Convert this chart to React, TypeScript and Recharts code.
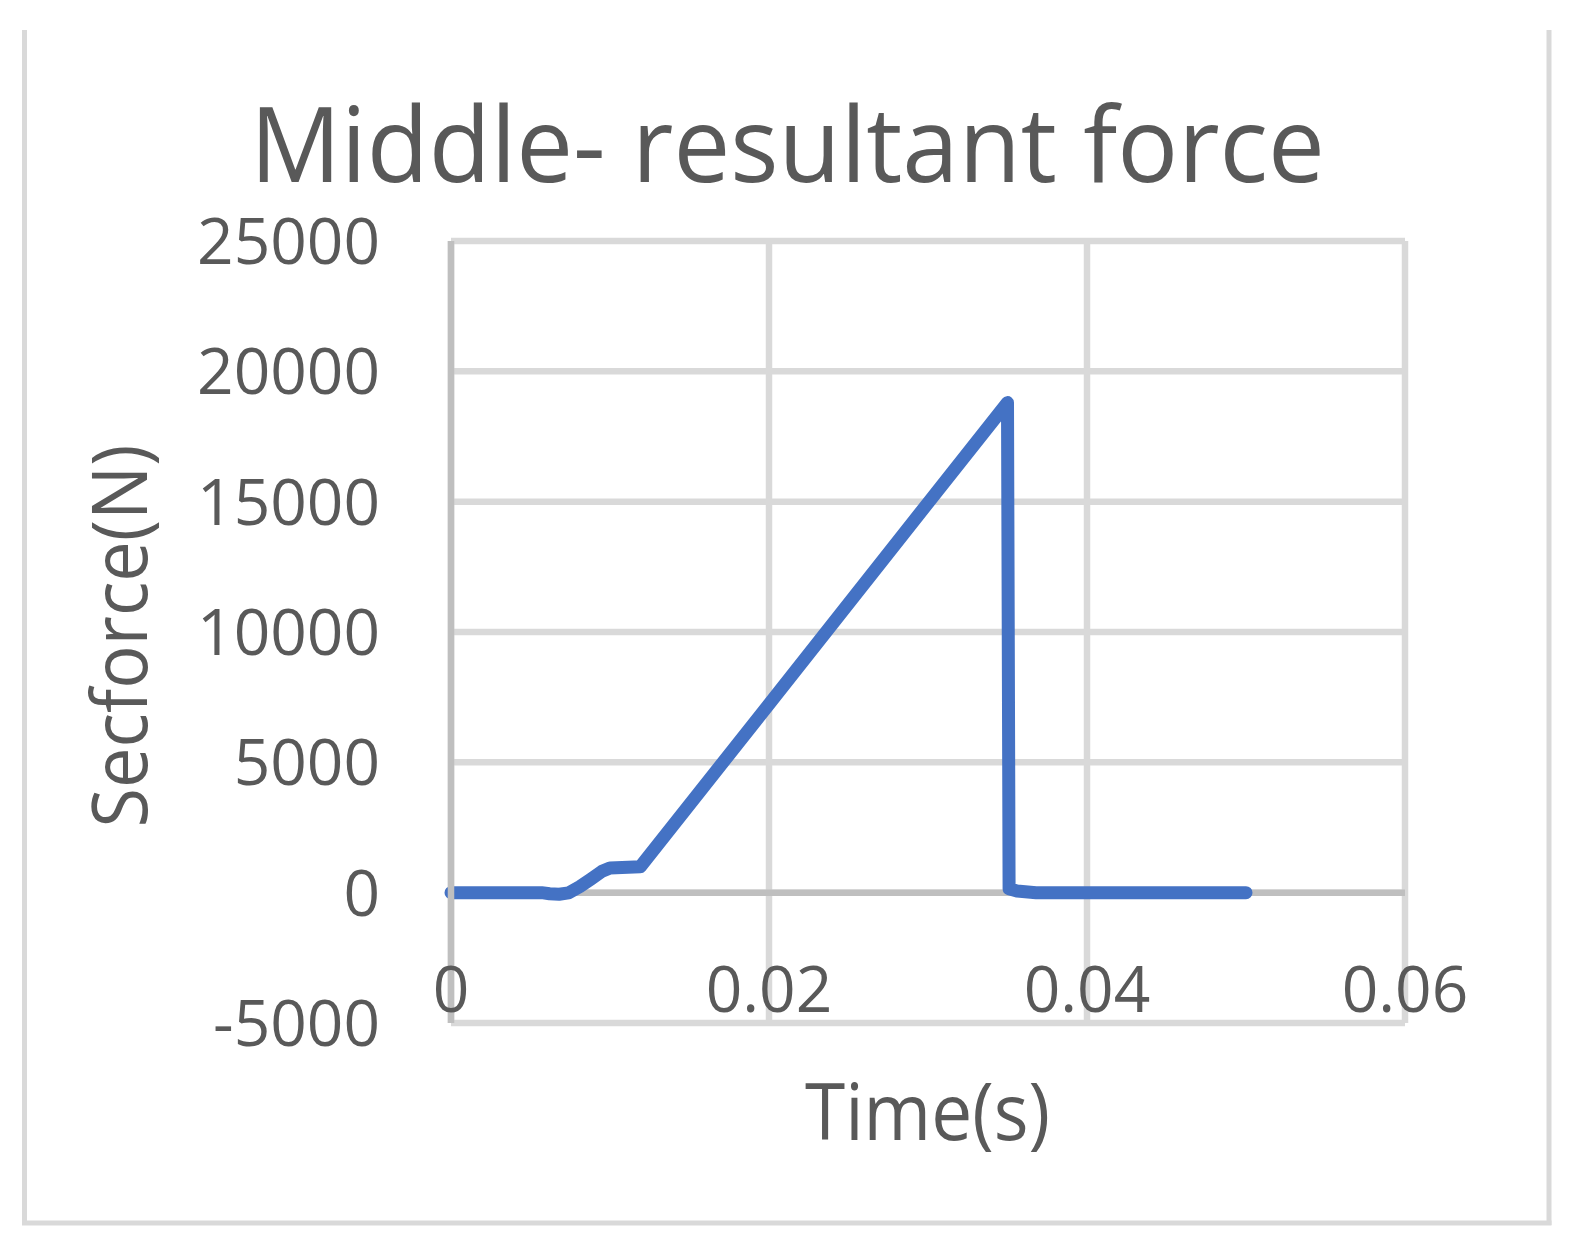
import React from 'react';
import { LineChart, Line, XAxis, YAxis, CartesianGrid, ReferenceLine } from 'recharts';

const chartTitle = 'Middle- resultant force';
const xAxisTitle = 'Time(s)';
const yAxisTitle = 'Secforce(N)';

const timeValues = [0, 0.0057, 0.0062, 0.0068, 0.0074, 0.0081, 0.0088, 0.0095, 0.01, 0.0119, 0.02, 0.03, 0.035, 0.0351, 0.0356, 0.0368, 0.05];
const forceValues = [0, 0, -40, -60, -10, 230, 520, 820, 950, 990, 7230, 14950, 18800, 150, 60, 0, 0];

const xTicks = [0, 0.02, 0.04, 0.06];
const xTickLabels = ['0', '0.02', '0.04', '0.06'];
const yTicks = [-5000, 0, 5000, 10000, 15000, 20000, 25000];
const yTickLabels = ['-5000', '0', '5000', '10000', '15000', '20000', '25000'];

const data = timeValues.map((t, i) => ({ t, f: forceValues[i] }));

const FONT = '"Open Sans", "Noto Sans", sans-serif';
const TEXT = '#595959';

const renderXTick = (props: any) => {
  const { x, y, payload } = props;
  const idx = xTicks.indexOf(payload.value);
  return (
    <text key={`x-${payload.value}`} x={x} y={y - 11} textAnchor="middle" fontFamily={FONT} fontSize={64} fill={TEXT}>
      {idx >= 0 ? xTickLabels[idx] : String(payload.value)}
    </text>
  );
};

const renderYTick = (props: any) => {
  const { y, payload } = props;
  const idx = yTicks.indexOf(payload.value);
  return (
    <text key={`y-${payload.value}`} x={380} y={y + 23} textAnchor="end" fontFamily={FONT} fontSize={64} fill={TEXT}>
      {idx >= 0 ? yTickLabels[idx] : String(payload.value)}
    </text>
  );
};

export default function App() {
  return (
    <div style={{ position: 'absolute', left: 0, top: 0, width: 1571, height: 1240, background: '#fff' }}>
      <div style={{ position: 'absolute', left: 0, top: 0 }}>
        <LineChart
          width={1571}
          height={1240}
          data={data}
          margin={{ top: 241, right: 166, left: 0, bottom: 0 }}
        >
          <CartesianGrid stroke="#d9d9d9" strokeWidth={6.5} />
          <XAxis
            dataKey="t"
            type="number"
            domain={[0, 0.06]}
            ticks={xTicks}
            axisLine={false}
            tickLine={false}
            tickSize={0}
            tickMargin={0}
            height={217}
            tick={renderXTick}
            interval={0}
          />
          <YAxis
            type="number"
            domain={[-5000, 25000]}
            ticks={yTicks}
            axisLine={{ stroke: '#bfbfbf', strokeWidth: 6.5 }}
            tickLine={false}
            width={451}
            tick={renderYTick}
            interval={0}
          />
          <ReferenceLine y={0} stroke="#bfbfbf" strokeWidth={6.5} />
          <Line
            type="linear"
            dataKey="f"
            stroke="#4472C4"
            strokeWidth={13}
            dot={false}
            activeDot={false}
            strokeLinecap="round"
            strokeLinejoin="round"
            isAnimationActive={false}
          />
        </LineChart>
      </div>
      <svg
        width={1571}
        height={1240}
        style={{ position: 'absolute', left: 0, top: 0, pointerEvents: 'none' }}
      >
        <line x1={24.5} y1={30} x2={24.5} y2={1225} stroke="#d9d9d9" strokeWidth={5} />
        <line x1={1549} y1={30} x2={1549} y2={1225} stroke="#d9d9d9" strokeWidth={5} />
        <line x1={22} y1={1223} x2={1551.5} y2={1223} stroke="#d9d9d9" strokeWidth={5} />
        <text
          x={787.5}
          y={182}
          textAnchor="middle"
          fontFamily={FONT}
          fontSize={104}
          fill={TEXT}
          textLength={1075}
          lengthAdjust="spacingAndGlyphs"
        >
          {chartTitle}
        </text>
        <text
          x={927.5}
          y={1140}
          textAnchor="middle"
          fontFamily={FONT}
          fontSize={79}
          fill={TEXT}
          textLength={245}
          lengthAdjust="spacingAndGlyphs"
        >
          {xAxisTitle}
        </text>
        <text
          x={0}
          y={0}
          transform="translate(147,636) rotate(-90)"
          textAnchor="middle"
          fontFamily={FONT}
          fontSize={77}
          fill={TEXT}
          textLength={383}
          lengthAdjust="spacingAndGlyphs"
        >
          {yAxisTitle}
        </text>
      </svg>
    </div>
  );
}
